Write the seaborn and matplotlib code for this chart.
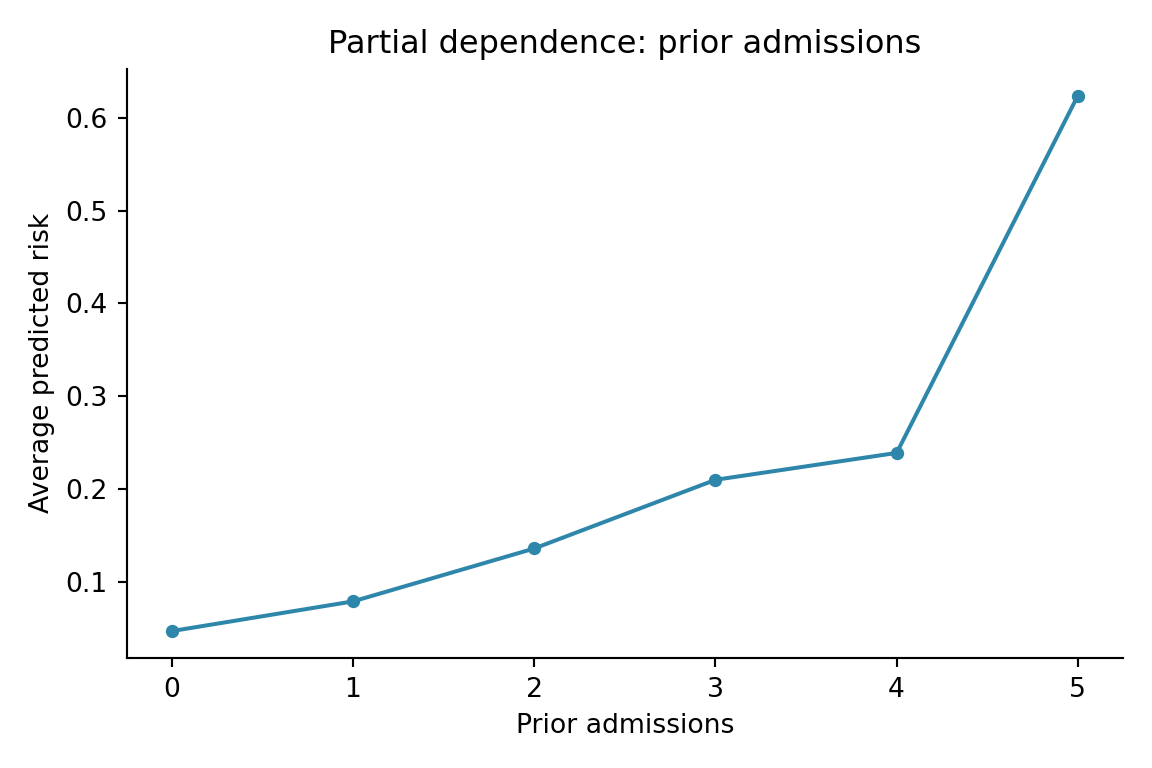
import matplotlib
matplotlib.use("Agg")
import matplotlib.pyplot as plt
import seaborn as sns
import pandas as pd

prior_admissions = [0, 1, 2, 3, 4, 5]
avg_risk = [0.047, 0.079, 0.136, 0.210, 0.239, 0.624]

plt.rcParams['font.family'] = ['DejaVu Sans']

df = pd.DataFrame({"Prior admissions": prior_admissions, "Average predicted risk": avg_risk})

fig, ax = plt.subplots(figsize=(6, 4), dpi=192)
sns.lineplot(data=df, x="Prior admissions", y="Average predicted risk", marker="o",
             color="#2E86AB", linewidth=1.5, markersize=5, markeredgewidth=0, ax=ax)
ax.set_title("Partial dependence: prior admissions")
ax.set_xlabel("Prior admissions")
ax.set_ylabel("Average predicted risk")
ax.set_xticks(prior_admissions)
sns.despine(ax=ax)
fig.tight_layout()
fig.savefig("out.png", dpi=192)
